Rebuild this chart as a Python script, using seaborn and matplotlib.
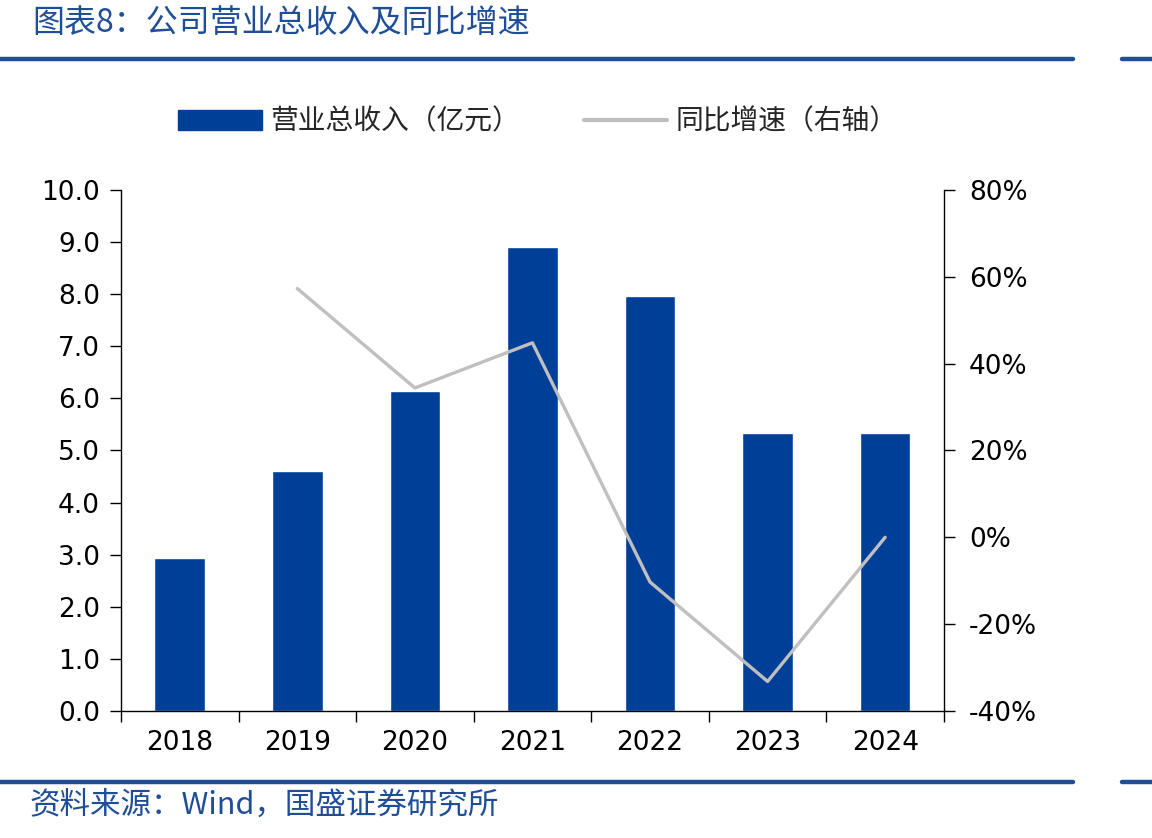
import numpy as np
import pandas as pd
import matplotlib
matplotlib.use("Agg")
import matplotlib.pyplot as plt
import seaborn as sns
from matplotlib.patches import Patch
from matplotlib.lines import Line2D
from matplotlib.ticker import FuncFormatter, FixedLocator

years = ["2018", "2019", "2020", "2021", "2022", "2023", "2024"]
revenue = [2.93, 4.61, 6.15, 8.90, 7.97, 5.33, 5.33]
growth_years = ["2019", "2020", "2021", "2022", "2023", "2024"]
growth = [57.3, 34.4, 44.8, -10.3, -33.2, 0.0]
left_ticks = [0, 1, 2, 3, 4, 5, 6, 7, 8, 9, 10]
right_ticks = [-40, -20, 0, 20, 40, 60, 80]
legend_labels = ["营业总收入（亿元）", "同比增速（右轴）"]
title = "图表8：公司营业总收入及同比增速"
source = "资料来源：Wind，国盛证券研究所"

sns.set_theme(style="white")
plt.rcParams['font.family'] = ['DejaVu Sans', 'Noto Sans CJK SC']
CJK = ['Noto Sans CJK SC', 'DejaVu Sans']

bar_color = "#003F98"
line_color = "#BFBFBF"
head_blue = "#1F4E99"

fig = plt.figure(figsize=(11.52, 8.38), dpi=100)
ax = fig.add_axes([0.105, 0.1516, 0.7144, 0.6217])

df = pd.DataFrame({"year": years, "revenue": revenue})
sns.barplot(data=df, x="year", y="revenue", color=bar_color, width=0.43,
            saturation=1, ax=ax)
ax.set_xlim(-0.5, 6.5)
ax.set_ylim(0, 10)
ax.set_xlabel("")
ax.set_ylabel("")
ax.yaxis.set_major_locator(FixedLocator(left_ticks))
ax.yaxis.set_major_formatter(FuncFormatter(lambda v, p: f"{v:.1f}"))

ax2 = ax.twinx()
pos = [years.index(y) for y in growth_years]
gdf = pd.DataFrame({"pos": pos, "growth": growth})
sns.lineplot(data=gdf, x="pos", y="growth", color=line_color, linewidth=2.4, ax=ax2)
ax2.set_ylim(-40, 80)
ax2.set_xlim(-0.5, 6.5)
ax2.set_ylabel("")
ax2.yaxis.set_major_locator(FixedLocator(right_ticks))
ax2.yaxis.set_major_formatter(FuncFormatter(lambda v, p: f"{v:.0f}%"))

for a in (ax, ax2):
    for s in a.spines.values():
        s.set_visible(False)
    a.grid(False)
ax.spines['left'].set_visible(True)
ax.spines['bottom'].set_visible(True)
ax2.spines['right'].set_visible(True)
for s in (ax.spines['left'], ax.spines['bottom'], ax2.spines['right']):
    s.set_color("black")
    s.set_linewidth(1.0)

ax.tick_params(axis='y', which='major', direction='out', length=8, width=1,
               colors='black', labelsize=19, pad=7, left=True)
ax2.tick_params(axis='y', which='major', direction='out', length=8, width=1,
                colors='black', labelsize=19, pad=10, right=True)
ax.set_xticks(range(len(years)))
ax.set_xticklabels(years)
ax.set_xticks(np.arange(-0.5, len(years), 1.0), minor=True)
ax.tick_params(axis='x', which='major', length=0, labelsize=19, pad=14, colors='black')
ax.tick_params(axis='x', which='minor', direction='out', length=8, width=1,
               colors='black', bottom=True)
for lab in ax.get_xticklabels() + ax.get_yticklabels() + ax2.get_yticklabels():
    lab.set_color("black")

handles = [Patch(facecolor=bar_color, edgecolor=bar_color),
           Line2D([0], [0], color=line_color, linewidth=3)]
leg = fig.legend(handles, legend_labels, loc='center', bbox_to_anchor=(0.467, 0.855),
                 ncol=2, frameon=False, handlelength=3.0, handleheight=0.75,
                 columnspacing=2.3, handletextpad=0.3,
                 prop={'family': CJK, 'size': 20})

fig.text(0.028, 0.973, title, color=head_blue, fontsize=23, style='italic',
         family=CJK, va='center', ha='left')
fig.text(0.026, 0.039, source, color=head_blue, fontsize=22, style='italic',
         family=CJK, va='center', ha='left')

for yy in (1 - 59 / 838, 1 - 782 / 838):
    fig.add_artist(Line2D([0, 1073 / 1152], [yy, yy], color=head_blue, linewidth=3.2,
                          transform=fig.transFigure))
    fig.add_artist(Line2D([1122 / 1152, 1], [yy, yy], color=head_blue, linewidth=3.2,
                          transform=fig.transFigure))

fig.savefig("out.png", dpi=100)
